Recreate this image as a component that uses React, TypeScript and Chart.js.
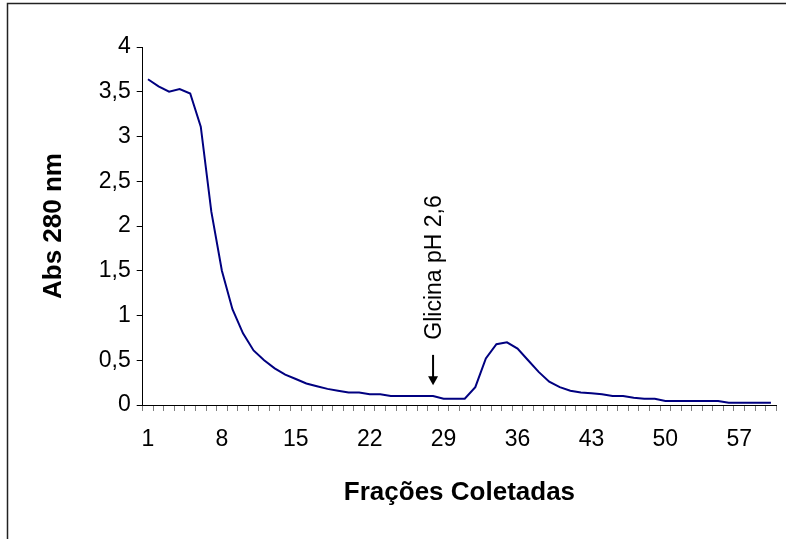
import React, { useEffect, useRef } from "react";
import { Chart, registerables } from "chart.js";

Chart.register(...registerables);

const fractions: string[] = Array.from({ length: 60 }, (_, i) => String(i + 1));
const absorbance: number[] = [
  3.64, 3.56, 3.5, 3.53, 3.48, 3.11, 2.16, 1.5, 1.07, 0.8,
  0.61, 0.5, 0.41, 0.34, 0.29, 0.24, 0.21, 0.18, 0.16, 0.14,
  0.14, 0.12, 0.12, 0.1, 0.1, 0.1, 0.1, 0.1, 0.07, 0.07,
  0.07, 0.2, 0.52, 0.68, 0.7, 0.63, 0.5, 0.37, 0.26, 0.2,
  0.16, 0.14, 0.13, 0.12, 0.1, 0.1, 0.08, 0.07, 0.07, 0.045,
  0.045, 0.045, 0.045, 0.045, 0.045, 0.025, 0.025, 0.025, 0.025, 0.025,
];
const yTicks: number[] = [0, 0.5, 1, 1.5, 2, 2.5, 3, 3.5, 4];
const xLabelEvery = 7;
const yTitle = "Abs 280 nm";
const xTitle = "Frações Coletadas";
const annotationText = "Glicina pH 2,6";
const annotationFraction = "28";

const FONT = "'Liberation Sans', Arial, sans-serif";

const decorPlugin = {
  id: "decor",
  afterDraw(chart: any) {
    const ctx = chart.ctx as CanvasRenderingContext2D;
    const { chartArea } = chart;
    const xs = chart.scales.x;
    const ys = chart.scales.y;
    ctx.save();
    // outer frame
    ctx.strokeStyle = "#222";
    ctx.lineWidth = 1.5;
    ctx.strokeRect(7.5, 3.5, 820, 600);

    // y title
    ctx.fillStyle = "#000";
    ctx.font = `bold 26px ${FONT}`;
    ctx.textAlign = "center";
    ctx.textBaseline = "middle";
    ctx.save();
    ctx.translate(54, (chartArea.top + chartArea.bottom) / 2);
    ctx.rotate(-Math.PI / 2);
    ctx.fillText(yTitle, 0, 0);
    ctx.restore();

    // x title
    ctx.fillText(xTitle, (chartArea.left + chartArea.right) / 2, 493);

    // annotation
    const ax = xs.getPixelForValue(fractions.indexOf(annotationFraction));
    const tip = ys.getPixelForValue(0.22);
    const top = ys.getPixelForValue(0.56);
    ctx.strokeStyle = "#000";
    ctx.lineWidth = 2;
    ctx.beginPath();
    ctx.moveTo(ax, top);
    ctx.lineTo(ax, tip - 6);
    ctx.stroke();
    ctx.beginPath();
    ctx.moveTo(ax - 5, tip - 9);
    ctx.lineTo(ax + 5, tip - 9);
    ctx.lineTo(ax, tip);
    ctx.closePath();
    ctx.fill();

    ctx.font = `23px ${FONT}`;
    ctx.textAlign = "left";
    ctx.save();
    ctx.translate(ax + 2, ys.getPixelForValue(0.73));
    ctx.rotate(-Math.PI / 2);
    ctx.fillText(annotationText, 0, 0);
    ctx.restore();
    ctx.restore();
  },
};

export default function App() {
  const ref = useRef<HTMLCanvasElement | null>(null);
  useEffect(() => {
    if (!ref.current) return;
    const chart = new Chart(ref.current, {
      type: "line",
      data: {
        labels: fractions,
        datasets: [
          {
            data: absorbance,
            borderColor: "#000080",
            borderWidth: 2,
            pointRadius: 0,
            tension: 0,
            fill: false,
          },
        ],
      },
      options: {
        animation: false,
        responsive: true,
        maintainAspectRatio: false,
        devicePixelRatio: 1,
        layout: { padding: { top: 47, right: 7.3, bottom: 0, left: 0 } },
        plugins: { legend: { display: false }, tooltip: { enabled: false } },
        scales: {
          x: {
            type: "category",
            offset: true,
            grid: {
              offset: true,
              drawOnChartArea: false,
              drawTicks: true,
              tickLength: 6,
              color: "#808080",
            },
            border: { color: "#000", width: 1 },
            ticks: {
              autoSkip: false,
              maxRotation: 0,
              minRotation: 0,
              padding: 15,
              color: "#000",
              font: { family: FONT, size: 23 },
              callback: (_v: any, i: number) => (i % xLabelEvery === 0 ? fractions[i] : ""),
            },
            afterFit: (s: any) => {
              s.height = 134;
            },
          },
          y: {
            min: 0,
            max: 4,
            afterBuildTicks: (s: any) => {
              s.ticks = yTicks.map((v) => ({ value: v }));
            },
            grid: {
              drawOnChartArea: false,
              drawTicks: true,
              tickLength: 6,
              color: "#000",
            },
            border: { color: "#000", width: 1 },
            ticks: {
              padding: 6,
              color: "#000",
              font: { family: FONT, size: 23 },
              callback: (v: any) => String(v).replace(".", ","),
            },
            afterFit: (s: any) => {
              s.width = 142.7;
            },
          },
        },
      },
      plugins: [decorPlugin],
    });
    return () => chart.destroy();
  }, []);
  return (
    <div style={{ position: "absolute", left: 0, top: 0, width: 786, height: 539, background: "#fff" }}>
      <canvas ref={ref} />
    </div>
  );
}
